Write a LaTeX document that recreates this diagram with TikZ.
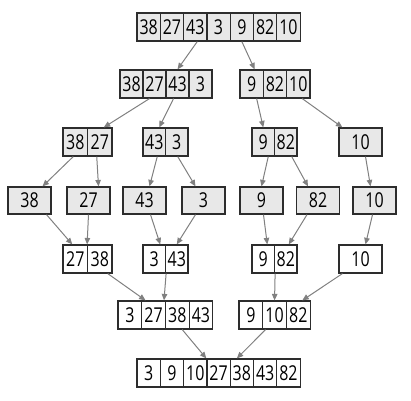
\documentclass[tikz,border=0pt]{standalone}
\usepackage{fontspec}
\usepackage{tikz}
\usetikzlibrary{positioning,calc}
\usetikzlibrary{arrows.meta}
\newfontfamily\digitfont{Open Sans}[FakeStretch=0.78]
\definecolor{CellGray}{RGB}{232,232,232}
\definecolor{CellLine}{RGB}{45,45,45}
\definecolor{ArrowGray}{RGB}{128,128,128}
\tikzset{
  cell/.style={draw=CellLine,line width=1.2pt,minimum height=28pt,inner sep=0pt,
    font=\digitfont\fontsize{20.5}{20.5}\selectfont},
  cellgray/.style={cell,fill=CellGray},
  cellwhite/.style={cell,fill=white},
  arr/.style={draw=ArrowGray,line width=1pt,-{Triangle[length=6.5pt,width=5.5pt]}},
}
% row of cells: name, left x, centre y, cell width, style, values
\newcommand{\cellrow}[6]{%
  \foreach \v [count=\i] in {#6}
    \node[#5,minimum width=#4pt] (#1\i) at ({#2+(\i-0.5)*#4},#3) {\v};
}

\begin{document}
\begin{tikzpicture}[x=1pt,y=-1pt]
\useasboundingbox (0,0) rectangle (411,400);
% splitting
\cellrow{arr}{137}{27}{23.3}{cellgray}{38,27,43,3,9,82,10}
\cellrow{hl}{120}{84}{23}{cellgray}{38,27,43,3}
\cellrow{hr}{240}{84}{23.3}{cellgray}{9,82,10}
\cellrow{qa}{63}{142}{24.5}{cellgray}{38,27}
\cellrow{qb}{143}{142}{22.5}{cellgray}{43,3}
\cellrow{qc}{252}{142}{22.5}{cellgray}{9,82}
\cellrow{qd}{339}{142}{43}{cellgray}{10}
\node[cellgray,minimum width=43pt,minimum height=27pt] (one1) at (29.5,200.5) {38};
\node[cellgray,minimum width=43pt,minimum height=27pt] (one2) at (88.5,200.5) {27};
\node[cellgray,minimum width=43pt,minimum height=27pt] (one3) at (144.5,200.5) {43};
\node[cellgray,minimum width=43pt,minimum height=27pt] (one4) at (203.5,200.5) {3};
\node[cellgray,minimum width=43pt,minimum height=27pt] (one5) at (261.5,200.5) {9};
\node[cellgray,minimum width=43pt,minimum height=27pt] (one6) at (318,200.5) {82};
\node[cellgray,minimum width=43pt,minimum height=27pt] (one7) at (374.5,200.5) {10};
% merging
\cellrow{ma}{63}{259}{24.5}{cellwhite}{27,38}
\cellrow{mb}{143}{259}{22.5}{cellwhite}{3,43}
\cellrow{mc}{252}{259}{22.5}{cellwhite}{9,82}
\cellrow{md}{339}{259}{43}{cellwhite}{10}
\cellrow{ml}{118}{315}{23.7}{cellwhite}{3,27,38,43}
\cellrow{mr}{239}{315}{23.7}{cellwhite}{9,10,82}
\cellrow{out}{137}{373}{23.3}{cellwhite}{3,9,10,27,38,43,82}
% arrows
\draw[arr] ([xshift=2pt]arr3.south) -- (hl3.north);
\draw[arr] (arr5.south) -- ([xshift=3pt]hr1.north);
\draw[arr] ([xshift=-5pt]hl2.south) -- ([xshift=4pt]qa2.north);
\draw[arr] ([xshift=-4pt]hl3.south) -- ([xshift=5pt]qb1.north);
\draw[arr] ([xshift=5pt]hr1.south) -- (qc1.north);
\draw[arr] ([xshift=4pt]hr3.south) -- ([xshift=4pt]qd1.north west);
\draw[arr] ([xshift=-2pt]qa1.south) -- ([xshift=13pt]one1.north);
\draw[arr] ([xshift=-3pt]qa2.south) -- ([xshift=10pt]one2.north);
\draw[arr] ([xshift=3pt]qb1.south) -- ([xshift=5pt]one3.north);
\draw[arr] ([xshift=1pt]qb2.south) -- ([xshift=-8pt]one4.north);
\draw[arr] ([xshift=5pt]qc1.south) -- (one5.north);
\draw[arr] ([xshift=6pt]qc2.south) -- ([xshift=-10pt]one6.north);
\draw[arr] ([xshift=5pt]qd1.south) -- ([xshift=-4pt]one7.north);
\draw[arr] ([xshift=17pt]one1.south) -- ([xshift=-3pt]ma1.north);
\draw[arr] (one2.south) -- ([xshift=-1pt]ma1.north east);
\draw[arr] ([xshift=6pt]one3.south) -- ([xshift=6pt]mb1.north);
\draw[arr] ([xshift=-8pt]one4.south) -- (mb2.north);
\draw[arr] ([xshift=2pt]one5.south) -- ([xshift=4pt]mc1.north);
\draw[arr] ([xshift=-11pt]one6.south) -- ([xshift=3pt]mc2.north);
\draw[arr] ([xshift=-2pt]one7.south) -- ([xshift=5pt]md1.north);
\draw[arr] ([xshift=8pt]ma2.south) -- ([xshift=-8pt]ml2.north);
\draw[arr] (mb1.south east) -- ([xshift=-2pt]ml2.north east);
\draw[arr] (mc1.south east) -- (mr2.north);
\draw[arr] ([xshift=4pt]md1.south west) -- ([xshift=4pt]mr3.north);
\draw[arr] ([xshift=5pt]ml3.south) -- (out4.north west);
\draw[arr] ([xshift=-9pt]mr2.south) -- ([xshift=-5pt]out5.north);
\end{tikzpicture}
\end{document}
